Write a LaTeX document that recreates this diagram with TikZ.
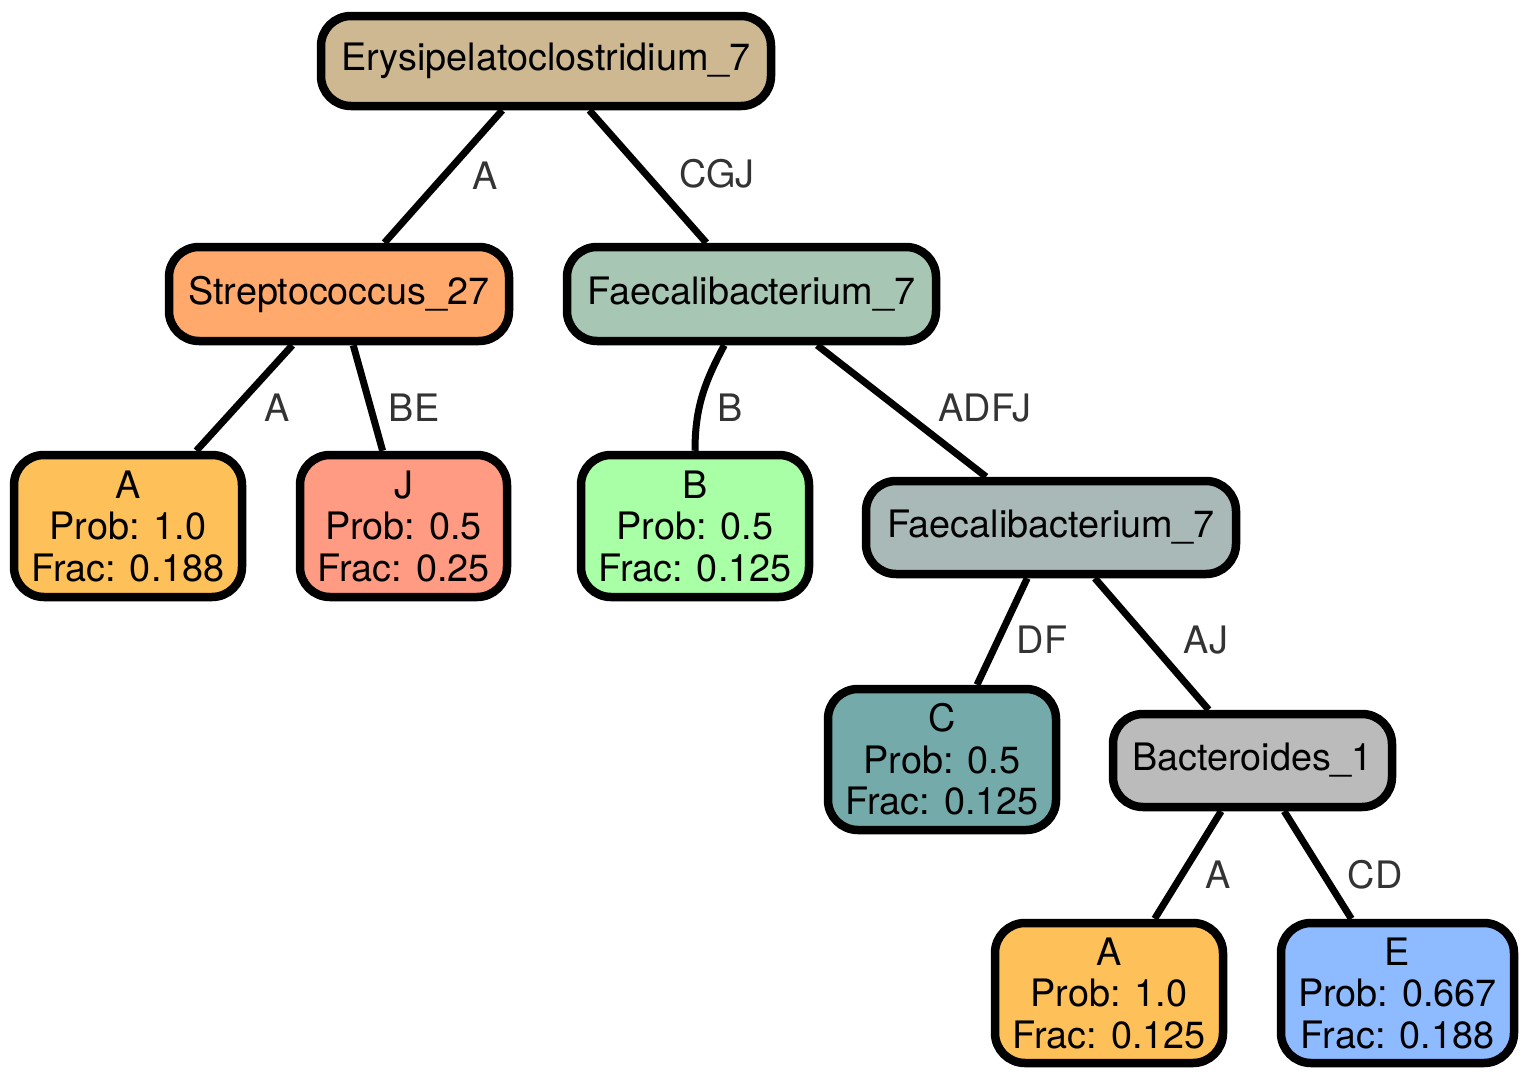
\documentclass[tikz,border=0pt]{standalone}
\usepackage{fontspec}
\setmainfont{TeX Gyre Heros}
\begin{document}
\begin{tikzpicture}[x=1pt,y=-1pt,
  box/.style={draw=black, line width=8.5pt, rounded corners=30pt, inner sep=0pt,
    font=\fontsize{37.8}{41.5}\selectfont, align=center, text=black},
  edge/.style={draw=black, line width=7pt},
  lbl/.style={font=\fontsize{37.8}{41.5}\selectfont, text=black!80, inner sep=0pt,
    text height=0.72em, text depth=0pt}]
\definecolor{cRoot}{HTML}{CDB892}
\definecolor{cStrep}{HTML}{FFAA6C}
\definecolor{cFaec}{HTML}{A8C6B4}
\definecolor{cA}{HTML}{FEC058}
\definecolor{cJ}{HTML}{FF9B82}
\definecolor{cB}{HTML}{A8FFA5}
\definecolor{cFaecB}{HTML}{A8B9B7}
\definecolor{cC}{HTML}{74AAAA}
\definecolor{cBact}{HTML}{BBBBBB}
\definecolor{cE}{HTML}{8EBBFF}
\useasboundingbox (0,0) rectangle (1529,1079);
\fill[white] (0,0) rectangle (1529,1079);

\node[box, fill=cRoot, minimum width=450pt, minimum height=90pt] (root) at (546,61) {Erysipelatoclostridium\_7};
\node[box, fill=cStrep, minimum width=340pt, minimum height=94pt] (strep) at (339,294) {Streptococcus\_27};
\node[box, fill=cFaec, minimum width=369pt, minimum height=94pt] (faec) at (751.5,294) {Faecalibacterium\_7};
\node[box, fill=cA, minimum width=228pt, minimum height=142pt] (leafA) at (128,526) {A\\Prob: 1.0\\Frac: 0.188};
\node[box, fill=cJ, minimum width=207pt, minimum height=142pt] (leafJ) at (403.5,526) {J\\Prob: 0.5\\Frac: 0.25};
\node[box, fill=cB, minimum width=228pt, minimum height=142pt] (leafB) at (695,526) {B\\Prob: 0.5\\Frac: 0.125};
\node[box, fill=cFaecB, minimum width=370pt, minimum height=93pt] (faecb) at (1051,527.5) {Faecalibacterium\_7};
\node[box, fill=cC, minimum width=228pt, minimum height=141pt] (leafC) at (942,759.5) {C\\Prob: 0.5\\Frac: 0.125};
\node[box, fill=cBact, minimum width=279pt, minimum height=93pt] (bact) at (1252.5,760.5) {Bacteroides\_1};
\node[box, fill=cA, minimum width=228pt, minimum height=140pt] (leafAb) at (1109,993) {A\\Prob: 1.0\\Frac: 0.125};
\node[box, fill=cE, minimum width=233pt, minimum height=140pt] (leafE) at (1397.5,993) {E\\Prob: 0.667\\Frac: 0.188};

\path[edge] (root) -- (strep) node[lbl] (l1) at (485,186) {A};
\path[edge] (root) -- (faec) node[lbl] (l2) at (717,184) {CGJ};
\path[edge] (strep) -- (leafA) node[lbl] (l3) at (277,418) {A};
\path[edge] (strep) -- (leafJ) node[lbl] (l4) at (414,418) {BE};
\path[edge] (faec) to[out=-118,in=90] (leafB) node[lbl] (l5) at (730,418) {B};
\path[edge] (faec) -- (faecb) node[lbl] (l6) at (985,418) {ADFJ};
\path[edge] (faecb) -- (leafC) node[lbl] (l7) at (1042,650) {DF};
\path[edge] (faecb) -- (bact) node[lbl] (l8) at (1206,650) {AJ};
\path[edge] (bact) -- (leafAb) node[lbl] (l9) at (1218,885) {A};
\path[edge] (bact) -- (leafE) node[lbl] (l10) at (1375,885) {CD};
\end{tikzpicture}
\end{document}
